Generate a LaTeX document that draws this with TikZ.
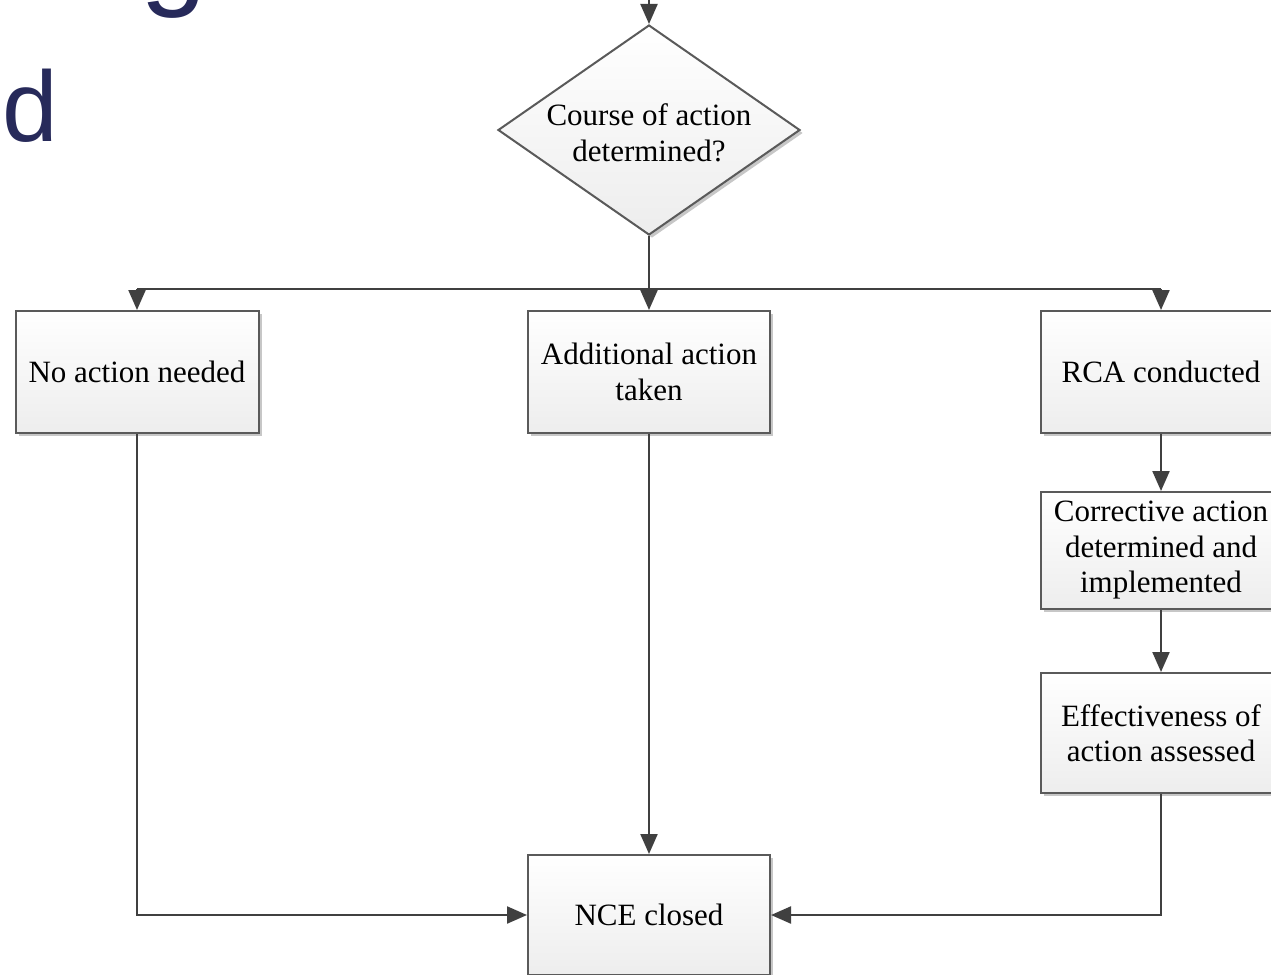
\documentclass[tikz,border=0pt]{standalone}
\usepackage{fontspec}
\setmainfont{Liberation Serif}
\newfontfamily\bigsans{Liberation Sans}
\usetikzlibrary{arrows.meta,shadows,shapes.geometric}
\definecolor{navy}{HTML}{272A5A}
\definecolor{edgecol}{HTML}{404040}
\definecolor{bordercol}{HTML}{5A5A5A}
\begin{document}
\begin{tikzpicture}[x=1pt,y=-1pt,
  shadowed/.style={drop shadow={shadow xshift=3pt,shadow yshift=-3pt,opacity=0.22,fill=black}},
  boxtext/.style={font=\fontsize{31}{35.5}\selectfont, align=center},
  box/.style={draw=bordercol, line width=2pt, top color=white, bottom color=black!7,
    shadowed, minimum width=242pt, inner sep=0pt, boxtext},
  conn/.style={draw=edgecol, line width=2.2pt},
  arr/.style={conn, -{Triangle[length=20pt,width=17pt]}},
  bigletter/.style={anchor=base west, inner sep=0pt, text=navy, font=\bigsans\fontsize{100}{100}\selectfont}]
\useasboundingbox (0,0) rectangle (1271,974);
\clip (0,0) rectangle (1271,974);

% large title fragments
\node[bigletter, font=\bigsans\fontsize{120}{120}\selectfont] (bigg) at (140,-6) {g};
\node[bigletter] (bigd) at (2.5,141) {d};

% decision
\node[diamond, draw=bordercol, line width=2pt, top color=white, bottom color=black!7, shadowed,
      minimum width=302pt, minimum height=210pt, inner sep=0pt] (dec) at (649,130) {};
\node[boxtext, inner sep=0pt] (dectext) at (649,133) {Course of action\\determined?};

% boxes
\node[box, minimum height=122pt, minimum width=243pt] (noact) at (137,372) {No action needed};
\node[box, minimum height=122pt] (addl) at (649,372) {Additional action\\taken};
\node[box, minimum height=122pt, minimum width=240pt] (rca) at (1161,372) {RCA conducted};
\node[box, minimum height=117pt, minimum width=240pt] (corr) at (1161,550.5) {Corrective action\\determined and\\implemented};
\node[box, minimum height=120pt, minimum width=240pt] (eff) at (1161,733) {Effectiveness of\\action assessed};
\node[box, minimum height=120pt] (nce) at (649,915) {NCE closed};

% connectors
\coordinate (topin) at (649,-10);
\coordinate (split) at (649,289);
\coordinate (splitL) at (137,289);
\coordinate (splitR) at (1161,289);
\draw[arr] (topin) -- (dec.north);
\draw[conn] (dec.south) -- (split);
\draw[conn] (splitL) -- (splitR);
\draw[arr] (splitL) -- (noact.north);
\draw[arr] (split) -- (addl.north);
\draw[arr] (splitR) -- (rca.north);
\draw[arr] (rca.south) -- (corr.north);
\draw[arr] (corr.south) -- (eff.north);
\draw[arr] (addl.south) -- (nce.north);
\draw[arr] (noact.south) |- (nce.west);
\draw[arr] (eff.south) |- (nce.east);
\end{tikzpicture}
\end{document}
